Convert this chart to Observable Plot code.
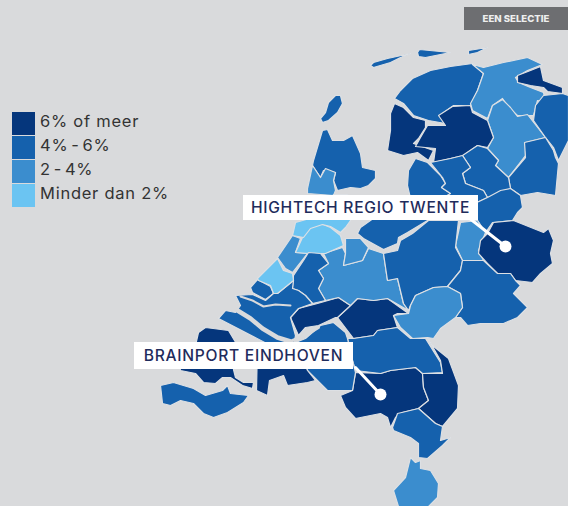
<!DOCTYPE html>
<html><head><meta charset="utf-8">
<script src="https://cdn.jsdelivr.net/npm/d3@7"></script>
<script src="https://cdn.jsdelivr.net/npm/@observablehq/plot@0.6"></script>
<style>
html,body{margin:0;padding:0;background:#d9dadc;width:568px;height:506px;overflow:hidden}
#wrap{position:relative;width:568px;height:506px;font-family:Inter,"Noto Sans",sans-serif}
#wrap svg{display:block;background:transparent;position:absolute;left:0;top:0}
.lab{position:absolute;background:#fff;color:#1f2c5c;font-weight:500;font-size:15.6px;letter-spacing:.72px;white-space:nowrap;display:flex;align-items:center;justify-content:center}
.badge{position:absolute;left:464px;top:7px;width:104px;height:23px;background:#6d6e71;color:#eee;font-size:9.6px;font-weight:800;display:flex;align-items:center;justify-content:center}
.sw{position:absolute;left:12px;width:23px;height:23px}
.lt{position:absolute;left:40px;font-size:16.5px;color:#333;letter-spacing:.75px;line-height:23px;white-space:nowrap}
</style></head><body><div id="wrap"></div>
<script>
const classes = ["6% of meer","4% - 6%","2 - 4%","Minder dan 2%"];
const colors = ["#05367c","#1561ad","#3b8dce","#6bc4f2"];
const badgeText = "EEN SELECTIE";
const callouts = ["HIGHTECH REGIO TWENTE","BRAINPORT EINDHOVEN"];
const regionClasses = [1,1,1,1,2,2,0,1,1,0,0,1,1,1,1,2,0,1,2,0,0,2,2,2,3,3,0,1,1,1,0,1,1,0,0,1,2,1,3,1,1,2,1,1];
const regionOutlines = [
 [[394,98],[400,90],[412,78],[430,70],[450,66],[472,63],[483,73],[477,90],[470,105],[453,105],[442,113],[445,123],[428,120],[413,115],[403,103]],
 [[322,122],[320,118],[325,112],[328,102],[335,95],[340,95],[342,103],[337,112],[328,120]],
 [[322,130],[327,129],[332,140],[343,140],[352,135],[360,153],[362,167],[375,170],[375,178],[368,185],[360,188],[350,187],[337,190],[333,180],[335,172],[323,170],[320,177],[312,165],[313,160]],
 [[370,65],[373,62],[387,58],[410,53],[400,57],[390,62],[373,67]],
 [[472,64],[483,67],[503,62],[527,57],[542,64],[527,70],[515,77],[518,82],[530,87],[543,92],[545,102],[537,100],[533,115],[517,115],[508,107],[502,98],[492,105],[487,118],[472,110],[470,103],[477,90],[483,73]],
 [[502,99],[510,107],[517,116],[527,114],[545,137],[525,142],[525,155],[508,177],[495,165],[498,160],[487,148],[493,137],[487,120],[492,105]],
 [[517,75],[530,70],[540,66],[543,80],[562,87],[562,93],[547,91],[543,87],[530,85],[517,82]],
 [[562,93],[568,95],[568,140],[558,160],[553,147],[545,137],[533,120],[535,105],[543,95]],
 [[545,137],[553,150],[555,157],[558,163],[555,195],[537,192],[520,195],[510,188],[508,177],[525,157],[524,142]],
 [[394,103],[403,107],[413,117],[425,120],[425,127],[418,138],[413,143],[433,150],[428,160],[417,152],[403,155],[387,150],[390,130],[390,113]],
 [[427,125],[445,125],[438,115],[452,106],[470,105],[472,112],[487,120],[493,137],[487,147],[477,145],[463,155],[450,158],[433,162],[435,148],[415,146],[420,137]],
 [[408,170],[415,158],[427,162],[440,175],[445,183],[441,187],[450,193],[440,200],[410,198],[407,185]],
 [[462,155],[477,145],[487,148],[498,160],[495,165],[508,177],[510,188],[500,193],[487,197],[483,190],[465,183],[462,173],[470,167]],
 [[430,162],[450,158],[462,155],[470,167],[462,173],[465,183],[483,190],[487,197],[470,205],[458,220],[428,220],[440,205],[445,196],[450,193],[441,187],[445,183],[442,177]],
 [[487,197],[500,190],[510,188],[520,195],[522,207],[517,212],[512,220],[492,222],[485,232],[477,220],[460,220],[470,205]],
 [[460,222],[477,220],[485,232],[478,250],[483,260],[462,260],[455,245]],
 [[493,222],[513,220],[543,232],[548,228],[553,240],[550,253],[552,263],[540,273],[532,282],[515,280],[510,273],[497,273],[487,263],[478,253],[480,240],[487,233]],
 [[357,233],[360,227],[377,215],[427,215],[427,220],[407,232],[398,237],[397,243],[383,249],[363,238]],
 [[312,165],[320,177],[325,168],[335,172],[333,180],[335,190],[333,195],[307,193],[307,188]],
 [[350,305],[357,298],[373,300],[387,298],[408,313],[397,313],[393,315],[397,327],[377,330],[373,335],[353,338],[337,317]],
 [[298,308],[317,303],[338,297],[350,305],[337,317],[335,317],[318,325],[305,327],[298,335],[290,317]],
 [[342,247],[345,253],[343,265],[362,260],[368,248],[383,253],[387,280],[397,278],[403,303],[408,310],[387,298],[373,300],[357,298],[350,305],[338,297],[325,300],[318,288],[323,278],[318,270],[328,263],[323,253]],
 [[345,238],[360,238],[368,247],[362,260],[343,265],[345,253]],
 [[292,235],[300,238],[295,252],[307,253],[292,272],[285,268],[277,257]],
 [[295,252],[302,237],[308,228],[320,223],[330,227],[340,235],[343,245],[325,253],[320,253],[308,253]],
 [[333,194],[347,194],[350,220],[345,227],[340,232],[330,226],[322,224],[310,228],[303,237],[292,235],[295,222],[320,215]],
 [[198,332],[205,327],[228,330],[237,345],[240,365],[233,369],[235,377],[243,382],[253,382],[252,388],[242,385],[230,377],[222,377],[215,383],[203,382],[195,373],[180,370],[178,360],[195,345]],
 [[303,260],[308,252],[320,253],[328,263],[318,270],[323,278],[318,288],[325,300],[312,303],[305,295],[298,290],[292,288],[293,275]],
 [[250,287],[257,279],[270,286],[273,293],[265,299],[252,292]],
 [[235,295],[252,294],[265,300],[273,293],[277,293],[293,280],[292,288],[298,290],[305,295],[312,303],[298,308],[290,317],[295,335],[293,345],[270,345],[218,318],[225,310],[235,312],[240,305]],
 [[355,372],[380,373],[390,370],[415,367],[422,373],[423,387],[428,400],[418,408],[402,412],[395,417],[390,427],[387,417],[380,413],[355,418],[345,407],[340,395],[352,390]],
 [[347,338],[353,338],[373,335],[377,330],[397,327],[410,338],[425,338],[440,362],[442,372],[422,373],[415,367],[390,370],[380,373],[355,370],[352,360]],
 [[320,325],[333,322],[345,332],[347,338],[352,360],[355,372],[352,390],[342,390],[327,390],[317,380],[307,370],[295,342],[305,338]],
 [[427,337],[432,345],[448,358],[458,385],[457,408],[442,426],[435,423],[418,408],[428,400],[423,387],[422,373],[442,373],[440,360]],
 [[257,342],[295,342],[307,370],[315,380],[307,382],[287,385],[283,375],[269,380],[267,395],[256,390]],
 [[397,413],[418,408],[435,423],[442,426],[440,440],[450,437],[442,445],[427,458],[418,457],[418,443],[410,437],[393,430],[392,427]],
 [[410,457],[415,462],[420,460],[420,468],[430,470],[438,483],[437,497],[428,506],[398,506],[393,490],[405,477]],
 [[160,385],[173,382],[193,388],[205,395],[222,390],[227,385],[230,393],[248,395],[243,402],[227,412],[213,417],[203,413],[193,403],[180,400],[170,405],[162,403]],
 [[257,278],[277,258],[283,270],[292,273],[293,280],[277,293],[273,293],[270,285],[258,280]],
 [[383,253],[397,250],[400,240],[412,233],[428,220],[458,220],[455,247],[462,260],[460,270],[447,286],[433,287],[415,295],[410,305],[408,310],[403,303],[397,278],[387,280]],
 [[462,260],[483,260],[497,273],[510,273],[515,280],[520,285],[513,293],[527,307],[517,317],[503,323],[480,323],[467,325],[460,317],[455,317],[462,307],[460,293],[447,286],[460,270]],
 [[410,305],[415,295],[433,287],[447,286],[460,293],[462,307],[455,317],[440,328],[433,338],[427,337],[412,338],[400,327],[393,315],[408,313]],
 [[417,52],[419,49],[450,52],[425,57],[418,56]],
 [[468,50],[487,47],[477,52],[468,54]]
];
const riverLines = [
 [[240,296],[252,300],[263,306],[275,304],[290,305]],
 [[237,310],[250,318],[262,328],[277,337],[290,341]],
 [[292,340],[305,335],[318,327]]
];
const riverWidths = [2,4.5,3];
const leaders = [[[468,217],[505,246]],[[355,367],[380,394]]];

const regionRows = regionOutlines.flatMap((o,i)=>o.map(([x,y])=>({x,y,i,cls:classes[regionClasses[i]]})));
const riverRows = riverLines.flatMap((o,i)=>o.map(([x,y])=>({x,y,i})));
const leaderRows = leaders.flatMap((o,i)=>o.map(([x,y])=>({x,y,i})));
const dotRows = leaders.map(o=>({x:o[1][0],y:o[1][1]}));

const chart = Plot.plot({
  width:568,height:506,margin:0,
  x:{axis:null,domain:[0,568],range:[0,568]},
  y:{axis:null,domain:[0,506],range:[0,506]},
  color:{type:"ordinal",domain:classes,range:colors},
  style:{background:"transparent"},
  marks:[
    Plot.line(regionRows,{x:"x",y:"y",z:"i",fill:"cls",stroke:"#dde0e4",strokeWidth:1.2,curve:"linear-closed",strokeLinejoin:"round"}),
    ...riverWidths.map((w,i)=>Plot.line(riverRows.filter(d=>d.i===i),{x:"x",y:"y",stroke:"#d9dadc",strokeWidth:w})),
    Plot.line(leaderRows,{x:"x",y:"y",z:"i",stroke:"#fff",strokeWidth:3}),
    Plot.dot(dotRows,{x:"x",y:"y",r:6,fill:"#fff"})
  ]
});
const wrap=document.getElementById("wrap");
wrap.appendChild(chart);
function add(cls,txt,css){const d=document.createElement("div");d.className=cls;d.textContent=txt;Object.assign(d.style,css||{});wrap.appendChild(d);}
add("badge",badgeText);
add("lab",callouts[0],{left:"243px",top:"195px",width:"235px",height:"25px"});
add("lab",callouts[1],{left:"134px",top:"342px",width:"219px",height:"27px"});
classes.forEach((c,i)=>{
  add("sw","",{top:(112+24*i)+"px",background:colors[i]});
  add("lt",c,{top:(110+24*i)+"px",wordSpacing:(i===1||i===2)?"-2.5px":"0"});
});
</script></body></html>
